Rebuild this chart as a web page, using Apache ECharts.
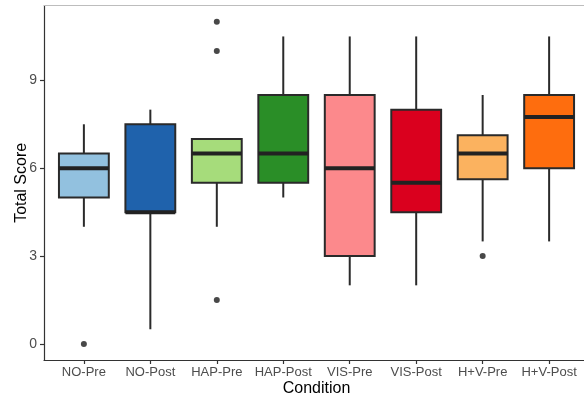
<!DOCTYPE html>
<html>
<head>
<meta charset="utf-8">
<script src="https://cdn.jsdelivr.net/npm/echarts@6/dist/echarts.min.js"></script>
<style>html,body{margin:0;padding:0;background:#fff}#c{width:584px;height:397px}</style>
</head>
<body>
<div id="c"></div>
<script>
const categories = ['NO-Pre', 'NO-Post', 'HAP-Pre', 'HAP-Post', 'VIS-Pre', 'VIS-Post', 'H+V-Pre', 'H+V-Post'];
const lowWhisker = [4, 0.5, 4, 5, 2, 2, 3.5, 3.5];
const q1 = [5, 4.5, 5.5, 5.5, 3, 4.5, 5.625, 6];
const medians = [6, 4.5, 6.5, 6.5, 6, 5.5, 6.5, 7.75];
const q3 = [6.5, 7.5, 7, 8.5, 8.5, 8, 7.125, 8.5];
const highWhisker = [7.5, 8, 7, 10.5, 10.5, 10.5, 8.5, 10.5];
const outlierCategory = ['NO-Pre', 'HAP-Pre', 'HAP-Pre', 'HAP-Pre', 'H+V-Pre'];
const outlierValue = [0, 11, 10, 1.5, 3];
const yTicks = [0, 3, 6, 9];
const fills = ['#92C1DF', '#1F62AC', '#A6DC7B', '#2A8E27', '#FC898C', '#DA001E', '#FBB25F', '#FE6D0E'];

const xPos = categories.map((_, i) => i + 1);
const boxData = categories.map((c, i) => [xPos[i], lowWhisker[i], q1[i], medians[i], q3[i], highWhisker[i]]);
const outlierData = outlierCategory.map((c, i) => [categories.indexOf(c) + 1, outlierValue[i]]);

const chart = echarts.init(document.getElementById('c'), null, {renderer: 'canvas'});
const lineColor = '#2a2a2a';
const font = 'Liberation Sans, Arial, sans-serif';
chart.setOption({
  animation: false,
  grid: {left: 44, right: -5, top: 5.7, bottom: 37, outerBoundsMode: 'none', containLabel: false},
  xAxis: [{
    type: 'value', min: 0.4, max: 8.6, position: 'bottom',
    name: 'Condition', nameLocation: 'middle', nameGap: 21, nameMoveOverlap: false,
    nameTextStyle: {fontFamily: font, fontSize: 16, color: '#000'},
    axisLine: {show: true, onZero: false, lineStyle: {color: '#333', width: 1.2}},
    axisTick: {show: true, length: 4, customValues: xPos, lineStyle: {color: '#333', width: 1.2}},
    axisLabel: {customValues: xPos, margin: 6, fontFamily: font, fontSize: 13, color: '#4d4d4d',
      formatter: v => categories[Math.round(v) - 1] || ''},
    splitLine: {show: false}
  }, {
    type: 'value', min: 0.4, max: 8.6, position: 'top',
    axisLine: {show: true, onZero: false, lineStyle: {color: '#bdbdbd', width: 1.2}},
    axisTick: {show: false}, axisLabel: {show: false}, splitLine: {show: false}
  }],
  yAxis: {
    type: 'value', min: -0.55, max: 11.55,
    name: 'Total Score', nameLocation: 'middle', nameGap: 14, nameMoveOverlap: false,
    nameTextStyle: {fontFamily: font, fontSize: 16, color: '#000'},
    axisLine: {show: true, onZero: false, lineStyle: {color: '#333', width: 1.2}},
    axisTick: {show: true, length: 4, customValues: yTicks, lineStyle: {color: '#333', width: 1.2}},
    axisLabel: {customValues: yTicks, margin: 7, fontFamily: font, fontSize: 14, color: '#4d4d4d'},
    splitLine: {show: false}
  },
  series: [{
    type: 'custom',
    data: boxData,
    encode: {x: 0, y: [1, 2, 3, 4, 5]},
    renderItem: function (params, api) {
      const x = api.value(0);
      const pLo = api.coord([x, api.value(1)]);
      const pQ1 = api.coord([x, api.value(2)]);
      const pMed = api.coord([x, api.value(3)]);
      const pQ3 = api.coord([x, api.value(4)]);
      const pHi = api.coord([x, api.value(5)]);
      const bw = api.size([0.75, 0])[0];
      const half = bw / 2;
      const ls = {stroke: lineColor, lineWidth: 2};
      return {
        type: 'group',
        children: [
          {type: 'line', shape: {x1: pHi[0], y1: pHi[1], x2: pQ3[0], y2: pQ3[1]}, style: ls},
          {type: 'line', shape: {x1: pQ1[0], y1: pQ1[1], x2: pLo[0], y2: pLo[1]}, style: ls},
          {type: 'rect', shape: {x: pQ3[0] - half, y: pQ3[1], width: bw, height: pQ1[1] - pQ3[1]},
            style: {fill: fills[params.dataIndex], stroke: lineColor, lineWidth: 2}},
          {type: 'line', shape: {x1: pMed[0] - half, y1: pMed[1], x2: pMed[0] + half, y2: pMed[1]},
            style: {stroke: '#222', lineWidth: 4}}
        ]
      };
    }
  }, {
    type: 'scatter',
    data: outlierData,
    symbol: 'circle', symbolSize: 6,
    itemStyle: {color: '#1a1a1a'}
  }]
});
</script>
</body>
</html>
